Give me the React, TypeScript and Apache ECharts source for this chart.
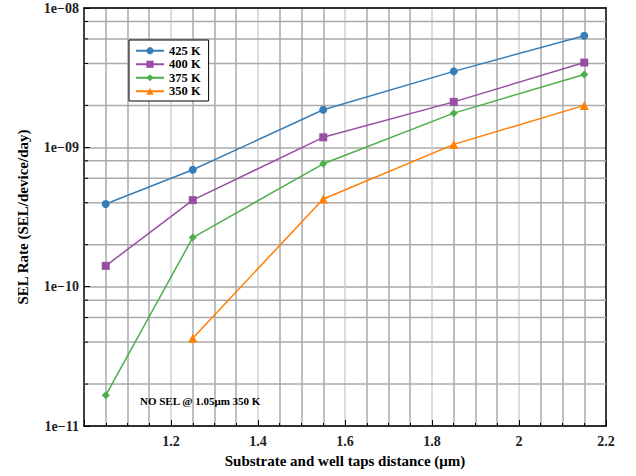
import React, { useEffect, useRef } from "react";
import * as echarts from "echarts";

const distances = [1.05, 1.25, 1.55, 1.85, 2.15];
const rate425 = [3.92e-10, 6.9e-10, 1.86e-9, 3.51e-9, 6.33e-9];
const rate400 = [1.41e-10, 4.18e-10, 1.18e-9, 2.12e-9, 4.06e-9];
const rate375 = [1.66e-11, 2.25e-10, 7.62e-10, 1.76e-9, 3.33e-9];
const rate350 = [null, 4.26e-11, 4.26e-10, 1.05e-9, 2.0e-9];
const seriesNames = ["425 K", "400 K", "375 K", "350 K"];
const minorGridValues = [
  2e-11, 4e-11, 6e-11, 8e-11,
  2e-10, 4e-10, 6e-10, 8e-10,
  2e-9, 4e-9, 6e-9, 8e-9,
];
const annotation = "NO SEL @ 1.05μm 350 K";

const FONT = "'Liberation Serif', 'Times New Roman', serif";
const COLORS = ["#377eb8", "#984ea3", "#4daf4a", "#ff7f00"];
const SYMBOLS = ["circle", "rect", "diamond", "triangle"];
const SIZES = [8, 8, 8, 9];

export default function App() {
  const ref = useRef<HTMLDivElement>(null);
  useEffect(() => {
    if (!ref.current) return;
    const chart = echarts.init(ref.current, undefined, { renderer: "svg" });
    const allRates = [rate425, rate400, rate375, rate350];
    const dataSeries = allRates.map((arr, i) => ({
      name: seriesNames[i],
      type: "line",
      z: 5,
      data: distances
        .map((x, j) => (arr[j] == null ? null : [x, arr[j]]))
        .filter((d) => d !== null),
      symbol: SYMBOLS[i],
      symbolSize: SIZES[i],
      itemStyle: { color: COLORS[i] },
      lineStyle: { color: COLORS[i], width: 1.5 },
    }));
    const fmtY = (v: number) => {
      const e = Math.round(Math.log10(v));
      const a = Math.abs(e);
      return "1e" + (e < 0 ? "\u2212" : "+") + (a < 10 ? "0" + a : String(a));
    };
    chart.setOption({
      animation: false,
      backgroundColor: "#ffffff",
      textStyle: { fontFamily: FONT },
      grid: { left: 84, right: 30, top: 8, bottom: 50 },
      legend: {
        data: seriesNames,
        orient: "vertical",
        left: 129,
        top: 40,
        backgroundColor: "#ffffff",
        borderColor: "#000000",
        borderWidth: 1,
        borderRadius: 0,
        padding: [4, 8, 3, 6],
        itemGap: 0,
        itemWidth: 28,
        itemHeight: 9,
        textStyle: { fontFamily: FONT, fontWeight: "bold", fontSize: 12.5, lineHeight: 13.5, color: "#000" },
      },
      xAxis: [
        {
          type: "value",
          min: 1,
          max: 2.2,
          interval: 0.2,
          name: "Substrate and well taps distance (μm)",
          nameLocation: "middle",
          nameGap: 27,
          nameTextStyle: { fontFamily: FONT, fontWeight: "bold", fontSize: 15, color: "#000" },
          axisLine: { show: true, onZero: false, lineStyle: { color: "#000", width: 1.5 } },
          axisTick: { show: true, inside: true, length: 6, lineStyle: { color: "#000" } },
          minorTick: { show: true, splitNumber: 4, length: 3, lineStyle: { color: "#000" } },
          axisLabel: {
            showMinLabel: false,
            margin: 8,
            fontFamily: FONT,
            fontWeight: "bold",
            fontSize: 14,
            color: "#222",
            formatter: (v: number) => (Math.abs(v - 1) < 1e-9 ? "" : String(+v.toFixed(1))),
          },
          splitLine: { show: true, showMaxLine: false, showMinLine: false, lineStyle: { color: "#d0d0d0", width: 1.5 } },
          minorSplitLine: { show: true, lineStyle: { color: "#aaaaaa", width: 1.5 } },
        },
        {
          type: "value",
          position: "top",
          min: 1,
          max: 2.2,
          axisLine: { show: true, onZero: false, lineStyle: { color: "#000", width: 1.5 } },
          axisTick: { show: false },
          axisLabel: { show: false },
          splitLine: { show: false },
        },
      ],
      yAxis: [
        {
          type: "log",
          logBase: 10,
          min: 1e-11,
          max: 1e-8,
          name: "SEL Rate (SEL/device/day)",
          nameLocation: "middle",
          nameGap: 54,
          nameTextStyle: { fontFamily: FONT, fontWeight: "bold", fontSize: 15, color: "#000" },
          axisLine: { show: true, onZero: false, lineStyle: { color: "#000", width: 1.5 } },
          axisTick: { show: true, inside: true, length: 6, lineStyle: { color: "#000" } },
          axisLabel: {
            margin: 5,
            fontFamily: FONT,
            fontWeight: "bold",
            fontSize: 14,
            color: "#222",
            formatter: fmtY,
          },
          splitLine: { show: true, lineStyle: { color: "#aaaaaa", width: 1.5 } },
        },
        {
          type: "log",
          logBase: 10,
          position: "right",
          min: 1e-11,
          max: 1e-8,
          axisLine: { show: true, onZero: false, lineStyle: { color: "#000", width: 1.5 } },
          axisTick: { show: false },
          axisLabel: { show: false },
          splitLine: { show: false },
        },
      ],
      series: [
        {
          name: "minor-grid",
          type: "custom",
          z: 1,
          silent: true,
          xAxisIndex: 0,
          yAxisIndex: 0,
          data: minorGridValues.map((v) => [1.5, v]),
          encode: { x: 0, y: 1 },
          renderItem: (params: any, api: any) => {
            const cs = params.coordSys;
            const y = api.coord([1.5, api.value(1)])[1];
            return {
              type: "group",
              children: [
                {
                  type: "line",
                  shape: { x1: cs.x, y1: y, x2: cs.x + cs.width, y2: y },
                  style: { stroke: "#aaaaaa", lineWidth: 1.5 },
                },
                {
                  type: "line",
                  shape: { x1: cs.x, y1: y, x2: cs.x + 4, y2: y },
                  style: { stroke: "#000", lineWidth: 1 },
                },
              ],
            };
          },
        },
        ...dataSeries,
      ],
      graphic: [
        {
          type: "text",
          left: 140,
          top: 395,
          z: 10,
          style: {
            text: annotation,
            font: "bold 11px " + FONT,
            fill: "#000",
          },
        },
      ],
    });
    return () => chart.dispose();
  }, []);
  return (
    <div
      ref={ref}
      style={{ position: "absolute", left: 0, top: 0, width: 636, height: 476 }}
    />
  );
}
